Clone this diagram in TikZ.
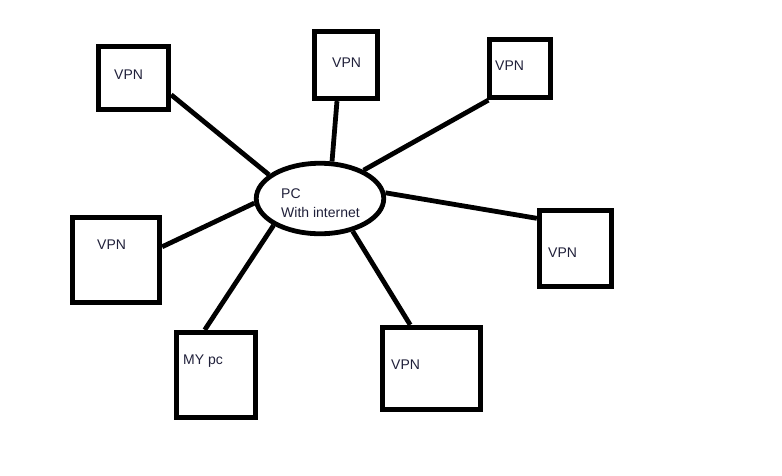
\documentclass[tikz,border=0pt]{standalone}
\usepackage{fontspec}
\setmainfont{Liberation Sans}
\usetikzlibrary{shapes.geometric}
\definecolor{txt}{HTML}{20203A}
\tikzset{
  box/.style={draw, rectangle, line width=4.8pt, inner sep=0pt},
  hub/.style={draw, ellipse, line width=4.8pt, inner sep=0pt},
  lbl/.style={anchor=base west, inner sep=0pt, text=txt, font=\fontsize{14}{16}\selectfont},
  link/.style={line width=4.8pt}
}
\begin{document}
\begin{tikzpicture}[x=1pt,y=-1pt]
\useasboundingbox[fill=white] (0,0) rectangle (782,475);
\node[hub, minimum width=127.5pt, minimum height=70.5pt] (pc) at (320,198.5) {};
\node[box, minimum width=70.5pt, minimum height=63.5pt] (b1) at (133.5,78) {};
\node[box, minimum width=63.5pt, minimum height=67.5pt] (b2) at (346,65) {};
\node[box, minimum width=61.5pt, minimum height=58.5pt] (b3) at (520,68.5) {};
\node[box, minimum width=87.5pt, minimum height=85.5pt] (b4) at (116,260) {};
\node[box, minimum width=72.5pt, minimum height=76.5pt] (b5) at (575.5,248.5) {};
\node[box, minimum width=79.5pt, minimum height=85.5pt] (b6) at (216,375) {};
\node[box, minimum width=98.5pt, minimum height=82.5pt] (b7) at (431.5,368.5) {};
\node[lbl] (t1) at (114,79) {VPN};
\node[lbl] (t2) at (332,67) {VPN};
\node[lbl] (t3) at (495,70) {VPN};
\node[lbl] (t4) at (97,249) {VPN};
\node[lbl] (t5) at (548,257) {VPN};
\node[lbl] (t6) at (183,364) {MY pc};
\node[lbl] (t7) at (391,369) {VPN};
\node[lbl] (p1) at (281,198) {PC};
\node[lbl] (p2) at (281,217) {With internet};
\draw[link] (b1.-24) -- (pc.155);
\draw[link] (b2.256) -- (pc.72);
\draw[link] (b3.225) -- (pc.33);
\draw[link] (b4.16) -- (pc.184);
\draw[link] (b5.142.5) -- (pc.5);
\draw[link] (b6.104) -- (pc.210);
\draw[link] (b7.116) -- (pc.315);
\end{tikzpicture}
\end{document}
